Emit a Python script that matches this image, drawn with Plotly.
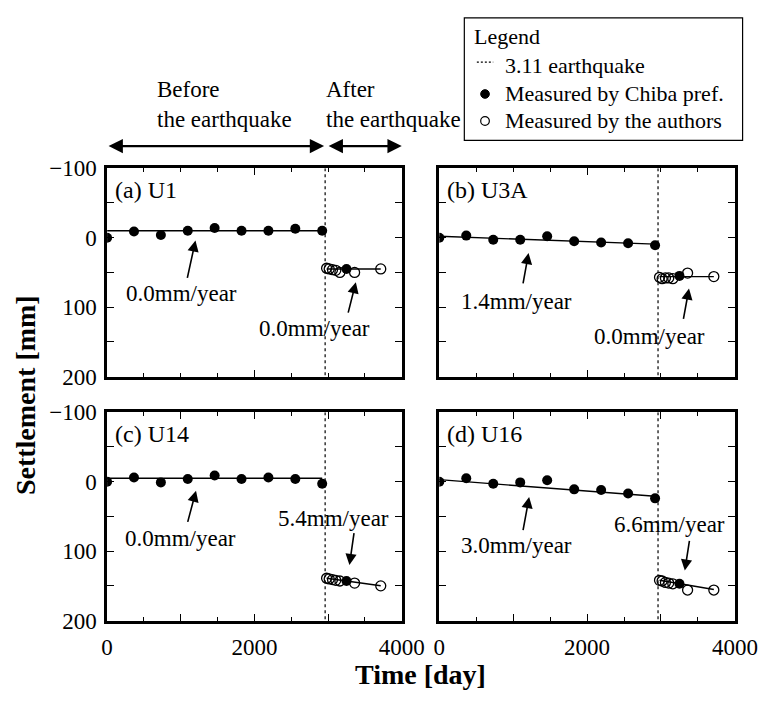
import plotly.graph_objects as go

# ---- measurement data (settlement in mm, positive = downward) ----
days_before = [0, 365, 730, 1095, 1460, 1825, 2190, 2555, 2920]
days_authors = [2980, 3015, 3060, 3105, 3160, 3360, 3715]
days_chiba_after = [3250]
eq_day = 2960

u1_before = [0, -9, -4, -10, -14, -10, -10, -13, -10]
u1_authors = [44, 45, 46, 47, 50, 50, 45]
u1_chiba_after = [45]

u3a_before = [0, -3, 3, 3, -2, 5, 7, 8, 11]
u3a_authors = [57, 59, 58, 58, 59, 51, 56]
u3a_chiba_after = [55]

u14_before = [0, -6, 1, -4, -9, -4, -6, -4, 3]
u14_authors = [139, 140, 141, 142, 143, 146, 150]
u14_chiba_after = [143]

u16_before = [0, -5, 3, 1, -2, 11, 12, 17, 24]
u16_authors = [142, 143, 145, 146, 147, 156, 156]
u16_chiba_after = [147]

# settlement rates (mm/year) and fit-line starting levels (mm)
rate_before = [0.0, 1.4, 0.0, 3.0]
rate_after = [0.0, 0.0, 5.4, 6.6]
start_before = [-10, -2, -5, -3]
start_after = [45, 56, 139, 142]

panel_titles = ["(a) U1", "(b) U3A", "(c) U14", "(d) U16"]
legend_title = "Legend"
legend_labels = ["3.11 earthquake", "Measured by Chiba pref.", "Measured by the authors"]

y_tickvals = [-100, -50, 0, 50, 100, 150, 200]
y_ticktext = ["\u2212100", "", "0", "", "100", "", "200"]
x_tickvals = [0, 1000, 2000, 3000, 4000]
x_ticktext = ["0", "", "2000", "", "4000"]

panels = [
    dict(before=u1_before, authors=u1_authors, chiba_after=u1_chiba_after,
         label_l=(1007, 80), tail_l=(1085, 60), tip_l=(1200, 4),
         label_r=(2810, 131), tail_r=(3268, 110), tip_r=(3377, 64)),
    dict(before=u3a_before, authors=u3a_authors, chiba_after=u3a_chiba_after,
         label_l=(1042, 92), tail_l=(1130, 68), tip_l=(1208, 22),
         label_r=(2845, 143), tail_r=(3300, 119), tip_r=(3379, 73)),
    dict(before=u14_before, authors=u14_authors, chiba_after=u14_chiba_after,
         label_l=(1002, 82), tail_l=(1089, 60), tip_l=(1207, 13),
         label_r=(3080, 53), tail_r=(3355, 72), tip_r=(3290, 120)),
    dict(before=u16_before, authors=u16_authors, chiba_after=u16_chiba_after,
         label_l=(1042, 92), tail_l=(1130, 72), tip_l=(1216, 22),
         label_r=(3118, 62), tail_r=(3388, 83), tip_r=(3322, 128)),
]

W, H = 781, 704
FONT = "Times New Roman, Liberation Serif, serif"

# panel placement in pixels: (left, right, top, bottom)
boxes = [(105, 411, 162, 378), (450, 757, 162, 378),
         (105, 411, 415, 631), (450, 757, 415, 631)]


def px(x):
    return x / W


def py(y):
    return 1 - y / H


fig = go.Figure()
annotations = []
shapes = []

for i, p in enumerate(panels):
    n = "" if i == 0 else str(i + 1)
    xa, ya = "x" + n, "y" + n

    # earthquake marker
    fig.add_trace(go.Scatter(
        x=[eq_day, eq_day], y=[-100, 200], xaxis=xa, yaxis=ya, mode="lines",
        line=dict(color="black", width=1.2, dash="3px,3px"),
        showlegend=False, hoverinfo="skip"))

    # fitted trend lines
    t0, t1 = days_before[0], days_before[-1]
    fig.add_trace(go.Scatter(
        x=[t0, t1],
        y=[start_before[i], start_before[i] + rate_before[i] * (t1 - t0) / 365],
        xaxis=xa, yaxis=ya, mode="lines", line=dict(color="black", width=1.4),
        showlegend=False, hoverinfo="skip"))
    a0, a1 = days_authors[0], days_authors[-1]
    fig.add_trace(go.Scatter(
        x=[a0, a1],
        y=[start_after[i], start_after[i] + rate_after[i] * (a1 - a0) / 365],
        xaxis=xa, yaxis=ya, mode="lines", line=dict(color="black", width=1.4),
        showlegend=False, hoverinfo="skip"))

    # Chiba prefecture levelling
    fig.add_trace(go.Scatter(
        x=days_before + days_chiba_after, y=p["before"] + p["chiba_after"],
        xaxis=xa, yaxis=ya, mode="markers",
        marker=dict(symbol="circle", size=10, color="black"),
        name=legend_labels[1], showlegend=False))

    # authors' survey
    fig.add_trace(go.Scatter(
        x=days_authors, y=p["authors"], xaxis=xa, yaxis=ya, mode="markers",
        marker=dict(symbol="circle-open", size=10, color="black",
                    line=dict(width=1.3, color="black")),
        name=legend_labels[2], showlegend=False))

    # panel title
    annotations.append(dict(
        text=panel_titles[i], xref=xa + " domain", yref=ya, x=0.02, y=-68,
        xanchor="left", yanchor="middle", showarrow=False,
        font=dict(family=FONT, size=24, color="black")))

    # rate labels and arrows
    for side, rate in (("l", rate_before[i]), ("r", rate_after[i])):
        lx, ly = p["label_" + side]
        annotations.append(dict(
            text=f"{rate:.1f}mm/year", xref=xa, yref=ya, x=lx, y=ly,
            xanchor="center", yanchor="middle",
            showarrow=False, font=dict(family=FONT, size=23, color="black")))
        (tx, ty), (hx, hy) = p["tail_" + side], p["tip_" + side]
        annotations.append(dict(
            text="", xref=xa, yref=ya, x=hx, y=hy, axref=xa, ayref=ya,
            ax=tx, ay=ty, showarrow=True, arrowhead=2, arrowsize=1.4,
            arrowwidth=1.6, arrowcolor="black", standoff=0))

    # axes
    left, right, top, bottom = boxes[i]
    common = dict(showline=True, linewidth=2.5, linecolor="black", mirror="allticks",
                  ticks="inside", tickcolor="black", tickwidth=1.4, showgrid=False,
                  zeroline=False, tickfont=dict(family=FONT, size=23, color="black"))
    fig.update_layout({
        "xaxis" + n: dict(domain=[px(left), px(right)], range=[0, 4000],
                          anchor=ya, tickmode="array", tickvals=x_tickvals,
                          ticktext=x_ticktext, ticklen=7, ticklabelstandoff=4,
                          minor=dict(dtick=500, ticklen=4, ticks="inside",
                                     tickcolor="black", tickwidth=1.4),
                          showticklabels=(i >= 2), **common),
        "yaxis" + n: dict(domain=[py(bottom), py(top)], range=[200, -100],
                          anchor=xa, tickmode="array", tickvals=y_tickvals,
                          ticktext=y_ticktext, ticklen=7, ticklabelstandoff=3,
                          showticklabels=(i % 2 == 0), **common),
    })

# before / after earthquake arrows above the top row
arrow_y = py(139)
annotations.append(dict(
    text="", xref="x", yref="paper", x=eq_day, y=arrow_y, axref="x", ayref="pixel",
    ax=0, ay=0, showarrow=True, arrowhead=2, arrowside="end+start", arrowsize=1.3,
    arrowwidth=2.2, arrowcolor="black", standoff=1, startstandoff=0))
annotations.append(dict(
    text="", xref="x", yref="paper", x=4000, y=arrow_y, axref="x", ayref="pixel",
    ax=eq_day, ay=0, showarrow=True, arrowhead=2, arrowside="end+start", arrowsize=1.3,
    arrowwidth=2.2, arrowcolor="black", standoff=0, startstandoff=2))
annotations.append(dict(
    text="Before<br>the earthquake", xref="x", yref="paper", x=650, y=py(65),
    xanchor="left", yanchor="top", align="left", showarrow=False,
    font=dict(family=FONT, size=23, color="black")))
annotations.append(dict(
    text="After<br>the earthquake", xref="x", yref="paper", x=2940, y=py(65),
    xanchor="left", yanchor="top", align="left", showarrow=False,
    font=dict(family=FONT, size=23, color="black")))

# axis titles
annotations.append(dict(
    text="<b>Settlement [mm]</b>", xref="paper", yref="paper", x=px(21),
    y=py(397), xanchor="center", yanchor="middle", textangle=-90, showarrow=False,
    font=dict(family=FONT, size=28, color="black")))
annotations.append(dict(
    text="<b>Time [day]</b>", xref="paper", yref="paper", x=px(431),
    y=py(687), xanchor="center", yanchor="middle", showarrow=False,
    font=dict(family=FONT, size=28, color="black")))

# legend box
LX0, LX1, LY0, LY1 = 476, 765, 6, 133
shapes.append(dict(type="rect", xref="paper", yref="paper",
                   x0=px(LX0), x1=px(LX1), y0=py(LY1), y1=py(LY0),
                   line=dict(color="black", width=1.2), fillcolor="white", layer="above"))
annotations.append(dict(
    text=legend_title, xref="paper", yref="paper", x=px(484), y=py(25),
    xanchor="left", yanchor="middle", showarrow=False,
    font=dict(family=FONT, size=22, color="black")))
row_y = [55, 85, 113]
for label, ry in zip(legend_labels, row_y):
    annotations.append(dict(
        text=label, xref="paper", yref="paper", x=px(516), y=py(ry),
        xanchor="left", yanchor="middle", showarrow=False,
        font=dict(family=FONT, size=22, color="black")))
shapes.append(dict(type="line", xref="paper", yref="paper",
                   x0=px(489), x1=px(506), y0=py(row_y[0] - 3), y1=py(row_y[0] - 3),
                   line=dict(color="black", width=1.2, dash="2px,2px"), layer="above"))
shapes.append(dict(type="circle", xref="paper", yref="paper",
                   x0=px(493), x1=px(502), y0=py(row_y[1] + 4.5), y1=py(row_y[1] - 4.5),
                   line=dict(color="black", width=1), fillcolor="black", layer="above"))
shapes.append(dict(type="circle", xref="paper", yref="paper",
                   x0=px(493), x1=px(502), y0=py(row_y[2] + 4.5), y1=py(row_y[2] - 4.5),
                   line=dict(color="black", width=1.2), fillcolor="white", layer="above"))

fig.update_layout(
    width=W, height=H, margin=dict(l=0, r=0, t=0, b=0),
    paper_bgcolor="white", plot_bgcolor="white",
    annotations=annotations, shapes=shapes, showlegend=False,
)

fig.write_html("out.html")
